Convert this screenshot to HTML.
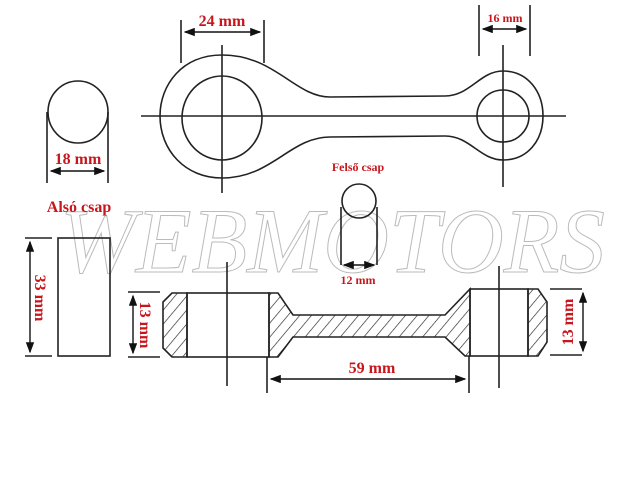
<!DOCTYPE html>
<html><head><meta charset="utf-8"><style>
html,body{margin:0;padding:0;background:#fff;}
svg{display:block}
.t{font-family:"Liberation Serif",serif;font-weight:bold;fill:#c8161d}
</style></head><body>
<svg width="640" height="480" viewBox="0 0 640 480" xmlns="http://www.w3.org/2000/svg">
<defs>
<marker id="a" markerWidth="8" markerHeight="6" refX="7" refY="3" orient="auto-start-reverse"><path d="M0,0 L8,3 L0,6 Z" fill="#111"/></marker>
<pattern id="h" patternUnits="userSpaceOnUse" width="9" height="9" patternTransform="rotate(40)"><line x1="0" y1="0" x2="0" y2="9" stroke="#222" stroke-width="1.3"/></pattern>
</defs>
<rect width="640" height="480" fill="#fff"/>
<text x="60" y="272" font-family="Liberation Serif,serif" font-style="italic" font-size="92" fill="none" stroke="#bbb" stroke-width="1" textLength="545" lengthAdjust="spacingAndGlyphs">WEBMOTORS</text>
<g stroke="#222" stroke-width="1.6" fill="none">
<line x1="141" y1="116" x2="566" y2="116"/>
<line x1="222" y1="45" x2="222" y2="193"/>
<line x1="503" y1="45" x2="503" y2="187"/>
<ellipse cx="222" cy="118" rx="40" ry="42"/>
<circle cx="503" cy="116" r="26"/>
<path d="M330,97 C295,97 275,55 222,55 C182,55 160,85 160,116 C160,150 185,178 222,178 C272,178 290,137 330,137 L445,136 C470,136 480,160 503,160 C528,160 543,140 543,116 C543,92 528,71 503,71 C480,71 470,96 445,96 Z"/>
<ellipse cx="78" cy="112" rx="30" ry="31"/>
<line x1="47" y1="112" x2="47" y2="183"/>
<line x1="108" y1="112" x2="108" y2="183"/>
<line x1="181" y1="20" x2="181" y2="63"/>
<line x1="264" y1="20" x2="264" y2="63"/>
<line x1="479" y1="5" x2="479" y2="56"/>
<line x1="530" y1="5" x2="530" y2="56"/>
<circle cx="359" cy="201" r="17"/>
<line x1="341" y1="207" x2="341" y2="265"/>
<line x1="377" y1="207" x2="377" y2="265"/>
<rect x="58" y="238" width="52" height="118"/>
<line x1="25" y1="238" x2="52" y2="238"/>
<line x1="25" y1="356" x2="52" y2="356"/>
<line x1="128" y1="292" x2="160" y2="292"/>
<line x1="128" y1="357" x2="160" y2="357"/>
<line x1="550" y1="289" x2="582" y2="289"/>
<line x1="550" y1="355" x2="582" y2="355"/>
<line x1="267" y1="357" x2="267" y2="393"/>
<line x1="469" y1="356" x2="469" y2="393"/>
<path d="M172,293 L187,293 L187,357 L172,357 L163,348 L163,302 Z" fill="url(#h)"/>
<rect x="187" y="293" width="82" height="64"/>
<path d="M269,293 L278,293 L293,315 L445,315 L470,289 L470,356 L465,356 L445,337 L293,337 L278,357 L269,357 Z" fill="url(#h)"/>
<rect x="470" y="289" width="58" height="67"/>
<path d="M528,289 L538,289 L547,302 L547,342 L538,356 L528,356 Z" fill="url(#h)"/>
<line x1="227" y1="262" x2="227" y2="386"/>
<line x1="499" y1="266" x2="499" y2="388"/>
</g>
<g stroke="#111" stroke-width="1.4" marker-end="url(#a)" marker-start="url(#a)">
<line x1="185" y1="32" x2="260" y2="32"/>
<line x1="483" y1="29" x2="526" y2="29"/>
<line x1="51" y1="171" x2="104" y2="171"/>
<line x1="344" y1="265" x2="374" y2="265"/>
<line x1="30" y1="242" x2="30" y2="352"/>
<line x1="133" y1="296" x2="133" y2="353"/>
<line x1="583" y1="293" x2="583" y2="351"/>
<line x1="271" y1="379" x2="465" y2="379"/>
</g>
<text class="t" x="222" y="26" font-size="16" text-anchor="middle">24 mm</text>
<text class="t" x="505" y="22" font-size="12" text-anchor="middle">16 mm</text>
<text class="t" x="78" y="164" font-size="16" text-anchor="middle">18 mm</text>
<text class="t" x="358" y="171" font-size="12" text-anchor="middle">Felső csap</text>
<text class="t" x="358" y="284" font-size="12" text-anchor="middle">12 mm</text>
<text class="t" x="79" y="212" font-size="16" text-anchor="middle">Alsó csap</text>
<text class="t" x="372" y="373" font-size="16" text-anchor="middle">59 mm</text>
<text class="t" font-size="16" text-anchor="middle" transform="translate(35,298) rotate(90)">33 mm</text>
<text class="t" font-size="16" text-anchor="middle" transform="translate(140,325) rotate(90)">13 mm</text>
<text class="t" font-size="16" text-anchor="middle" transform="translate(573,322) rotate(-90)">13 mm</text>
</svg>
</body></html>
